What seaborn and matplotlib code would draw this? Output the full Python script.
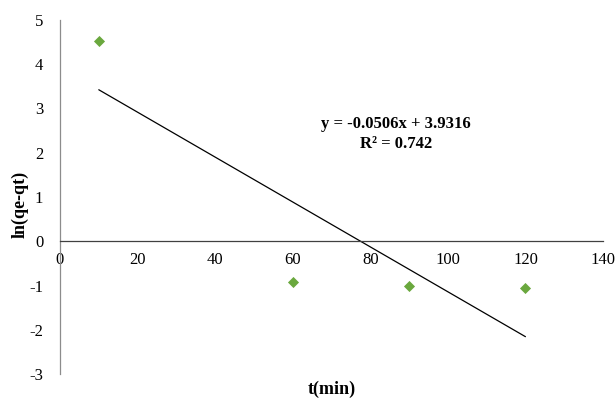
import numpy as np
import pandas as pd
import matplotlib
matplotlib.use("Agg")
import matplotlib.pyplot as plt
import seaborn as sns

# Data
t_min = [10, 60, 90, 120]
ln_qe_qt = [4.52, -0.93, -1.02, -1.05]
x_ticks = [0, 20, 40, 60, 80, 100, 120, 140]
y_ticks = [-3, -2, -1, 0, 1, 2, 3, 4, 5]
equation_text = "y = -0.0506x + 3.9316"
r2_text = "R² = 0.742"

df = pd.DataFrame({"t": t_min, "y": ln_qe_qt})

sns.set_style("white")
plt.rcParams['font.family'] = ['Liberation Serif', 'DejaVu Serif']
plt.rcParams['axes.unicode_minus'] = False
plt.rcParams['text.color'] = 'black'
plt.rcParams['axes.labelcolor'] = 'black'

fig = plt.figure(figsize=(6.15, 3.99), dpi=100)
ax = fig.add_axes([60/615, 1-374/399, (603-60)/615, (374-20)/399])

sns.regplot(data=df, x="t", y="y", ax=ax, ci=None, scatter=False,
            line_kws={"color": "black", "lw": 0.9})
sns.scatterplot(data=df, x="t", y="y", ax=ax, marker="D", s=32,
                color="#6AA83E", edgecolor="#6AA83E", linewidth=0, zorder=5)

ax.set_xlim(0, 140)
ax.set_ylim(-3, 5)
ax.set_xticks(x_ticks)
ax.set_yticks(y_ticks)
ax.spines['top'].set_visible(False)
ax.spines['right'].set_visible(False)
ax.spines['bottom'].set_position(('data', 0))
ax.spines['bottom'].set_color('#404040')
ax.spines['bottom'].set_linewidth(0.9)
ax.spines['left'].set_color('#8c8c8c')
ax.spines['left'].set_linewidth(0.9)
ax.tick_params(axis='both', length=0, labelsize=12, colors='black')
ax.tick_params(axis='x', pad=8)
ax.tick_params(axis='y', pad=12)

ax.set_xlabel("t(min)", fontsize=13, fontweight='bold', color='black')
ax.set_ylabel("ln(qe-qt)", fontsize=13, fontweight='bold', color='black')
ax.xaxis.set_label_coords(0.5, -0.02)
ax.xaxis.label.set_va('top')
ax.yaxis.set_label_coords(-0.058, 0.48)

ax.text(86.6, 2.64, equation_text, ha='center', va='center',
        fontsize=12, fontweight='bold', color='black')
ax.text(86.6, 2.2, r2_text, ha='center', va='center',
        fontsize=12, fontweight='bold', color='black')

fig.savefig("out.png", dpi=100)
